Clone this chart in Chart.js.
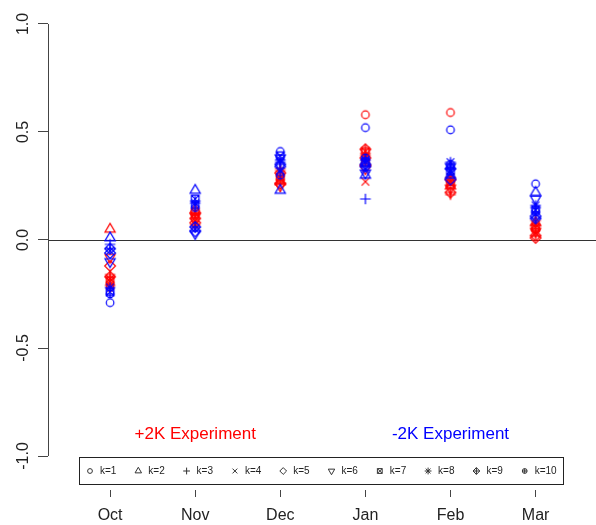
<!DOCTYPE html>
<html>
<head>
<meta charset="utf-8">
<title>Monthly anomalies by k</title>
<script src="https://cdn.jsdelivr.net/npm/chart.js@4.4.1/dist/chart.umd.min.js"></script>
<style>
  html, body { margin: 0; padding: 0; background: #fff; }
</style>
</head>
<body>
<canvas id="anomChart" width="596" height="525"></canvas>
<script>
const months = ["Oct", "Nov", "Dec", "Jan", "Feb", "Mar"];
const kLabels = ["k=1", "k=2", "k=3", "k=4", "k=5", "k=6", "k=7", "k=8", "k=9", "k=10"];
const yTicks = [-1, -0.5, 0, 0.5, 1];

// +2K run, one value per k (k=1..10)
const plusOct = [-0.20, 0.05, -0.16, -0.18, -0.12, -0.08, -0.19, -0.21, -0.17, -0.22];
const plusNov = [0.10, 0.14, 0.12, 0.09, 0.08, 0.11, 0.13, 0.07, 0.10, 0.12];
const plusDec = [0.30, 0.27, 0.33, 0.28, 0.31, 0.25, 0.29, 0.32, 0.26, 0.28];
const plusJan = [0.58, 0.36, 0.40, 0.27, 0.38, 0.33, 0.41, 0.39, 0.42, 0.37];
const plusFeb = [0.59, 0.25, 0.21, 0.27, 0.28, 0.24, 0.26, 0.29, 0.22, 0.27];
const plusMar = [0.05, 0.08, 0.09, 0.03, 0.01, 0.04, 0.06, 0.07, 0.02, 0.05];

// -2K run
const minusOct = [-0.29, 0.01, -0.02, -0.05, -0.06, -0.10, -0.24, -0.22, -0.04, -0.25];
const minusNov = [0.16, 0.23, 0.18, 0.05, 0.04, 0.03, 0.19, 0.17, 0.06, 0.15];
const minusDec = [0.41, 0.23, 0.36, 0.32, 0.34, 0.38, 0.39, 0.37, 0.35, 0.30];
const minusJan = [0.52, 0.30, 0.19, 0.33, 0.35, 0.31, 0.36, 0.37, 0.34, 0.38];
const minusFeb = [0.51, 0.30, 0.33, 0.31, 0.28, 0.34, 0.32, 0.36, 0.33, 0.35];
const minusMar = [0.26, 0.22, 0.15, 0.12, 0.11, 0.19, 0.14, 0.16, 0.10, 0.13];

const plusRuns = [plusOct, plusNov, plusDec, plusJan, plusFeb, plusMar];
const minusRuns = [minusOct, minusNov, minusDec, minusJan, minusFeb, minusMar];

const RED = "#ff0000";
const BLUE = "#0000ff";
const FONT = "'Liberation Sans', Arial, Helvetica, sans-serif";

// R-like plotting symbols, pch 1..10
function drawMark(ctx, k, x, y, r) {
  const s2 = Math.SQRT2 * r;
  const line = (x1, y1, x2, y2) => { ctx.moveTo(x1, y1); ctx.lineTo(x2, y2); };
  ctx.beginPath();
  switch (k) {
    case 0:
      ctx.arc(x, y, r, 0, 2 * Math.PI);
      break;
    case 1:
    case 5: {
      const d = k === 1 ? 1 : -1;
      ctx.moveTo(x, y - d * 1.555 * r);
      ctx.lineTo(x - 1.347 * r, y + d * 0.778 * r);
      ctx.lineTo(x + 1.347 * r, y + d * 0.778 * r);
      ctx.closePath();
      break;
    }
    case 2:
      line(x - s2, y, x + s2, y);
      line(x, y - s2, x, y + s2);
      break;
    case 3:
      line(x - r, y - r, x + r, y + r);
      line(x - r, y + r, x + r, y - r);
      break;
    case 4:
      ctx.moveTo(x, y - s2);
      ctx.lineTo(x + s2, y);
      ctx.lineTo(x, y + s2);
      ctx.lineTo(x - s2, y);
      ctx.closePath();
      break;
    case 6:
      ctx.rect(x - r, y - r, 2 * r, 2 * r);
      line(x - r, y - r, x + r, y + r);
      line(x - r, y + r, x + r, y - r);
      break;
    case 7:
      line(x - r, y - r, x + r, y + r);
      line(x - r, y + r, x + r, y - r);
      line(x - s2, y, x + s2, y);
      line(x, y - s2, x, y + s2);
      break;
    case 8:
      ctx.moveTo(x, y - s2);
      ctx.lineTo(x + s2, y);
      ctx.lineTo(x, y + s2);
      ctx.lineTo(x - s2, y);
      ctx.closePath();
      line(x - s2, y, x + s2, y);
      line(x, y - s2, x, y + s2);
      break;
    case 9:
      ctx.arc(x, y, r, 0, 2 * Math.PI);
      line(x - r, y, x + r, y);
      line(x, y - r, x, y + r);
      break;
  }
  ctx.stroke();
}

function makeMarker(k, color, r) {
  const size = Math.ceil(2 * 1.6 * r) + 3;
  const c = document.createElement("canvas");
  c.width = size;
  c.height = size;
  const g = c.getContext("2d");
  g.strokeStyle = color;
  g.lineWidth = 1.2;
  drawMark(g, k, size / 2, size / 2, r);
  return c;
}

function buildDatasets(runs, color, label, order) {
  return kLabels.map((k, i) => ({
    label: label + " " + k,
    data: runs.map((vals, m) => ({ x: m + 1, y: vals[i] })),
    pointStyle: makeMarker(i, color, 3.8),
    showLine: false,
    order: order,
  }));
}

const datasets = [
  ...buildDatasets(plusRuns, RED, "+2K", 1),
  ...buildDatasets(minusRuns, BLUE, "-2K", 0),
];

// axis line, zero line, legend box and run labels
const decorations = {
  id: "decorations",
  beforeDatasetsDraw(chart) {
    const { ctx, chartArea, scales } = chart;
    const y0 = Math.round(scales.y.getPixelForValue(0)) + 0.5;
    ctx.save();
    ctx.strokeStyle = "#333";
    ctx.lineWidth = 1;
    ctx.beginPath();
    ctx.moveTo(chartArea.left, y0);
    ctx.lineTo(chartArea.right, y0);
    ctx.stroke();
    ctx.restore();
  },
  afterDraw(chart) {
    const { ctx, chartArea, scales } = chart;
    const x = scales.x, y = scales.y;
    ctx.save();

    const ax = Math.round(chartArea.left) + 0.5;
    ctx.strokeStyle = "#444";
    ctx.lineWidth = 1;
    ctx.beginPath();
    ctx.moveTo(ax, y.getPixelForValue(1));
    ctx.lineTo(ax, y.getPixelForValue(-1));
    ctx.stroke();

    ctx.font = "17px " + FONT;
    ctx.textAlign = "center";
    ctx.textBaseline = "middle";
    ctx.fillStyle = RED;
    ctx.fillText("+2K Experiment", x.getPixelForValue(2), y.getPixelForValue(-0.9));
    ctx.fillStyle = BLUE;
    ctx.fillText("-2K Experiment", x.getPixelForValue(5), y.getPixelForValue(-0.9));

    const box = { left: 79, top: 457, width: 484, height: 27 };
    ctx.strokeStyle = "#222";
    ctx.strokeRect(box.left + 0.5, box.top + 0.5, box.width, box.height);
    const cy = box.top + box.height / 2 + 0.5;
    ctx.font = "10px " + FONT;
    ctx.textAlign = "left";
    ctx.fillStyle = "#222";
    ctx.strokeStyle = "#333";
    kLabels.forEach((lab, i) => {
      const sx = 90 + i * 48.3;
      drawMark(ctx, i, sx, cy, 2.4);
      ctx.fillText(lab, sx + 10, cy);
    });
    ctx.restore();
  },
};

const chart = new Chart(document.getElementById("anomChart"), {
  type: "scatter",
  data: { datasets },
  plugins: [decorations],
  options: {
    responsive: false,
    animation: false,
    devicePixelRatio: 1,
    layout: { padding: 0, autoPadding: false },
    plugins: {
      legend: { display: false },
      tooltip: { enabled: true },
    },
    scales: {
      x: {
        type: "linear",
        min: 0.27,
        max: 6.71,
        afterBuildTicks: (scale) => {
          scale.ticks = months.map((m, i) => ({ value: i + 1 }));
        },
        afterFit: (scale) => {
          scale.height = 35;
          scale.paddingLeft = 0;
          scale.paddingRight = 0;
        },
        ticks: {
          autoSkip: false,
          maxRotation: 0,
          padding: 9,
          color: "#222",
          font: { family: FONT, size: 16 },
          callback: (value) => months[value - 1],
        },
        grid: { drawOnChartArea: false, tickLength: 7, color: "#444" },
        border: { display: false },
      },
      y: {
        min: -1.1574,
        max: 1.1111,
        afterBuildTicks: (scale) => {
          scale.ticks = yTicks.map((v) => ({ value: v }));
        },
        afterFit: (scale) => {
          scale.width = 48;
          scale.paddingTop = 0;
          scale.paddingBottom = 0;
        },
        ticks: {
          minRotation: 90,
          maxRotation: 90,
          crossAlign: "center",
          padding: 1,
          color: "#222",
          font: { family: FONT, size: 16 },
          callback: (value) => value.toFixed(1),
        },
        grid: { drawOnChartArea: false, tickLength: 10, color: "#444" },
        border: { display: false },
      },
    },
  },
});
</script>
</body>
</html>
